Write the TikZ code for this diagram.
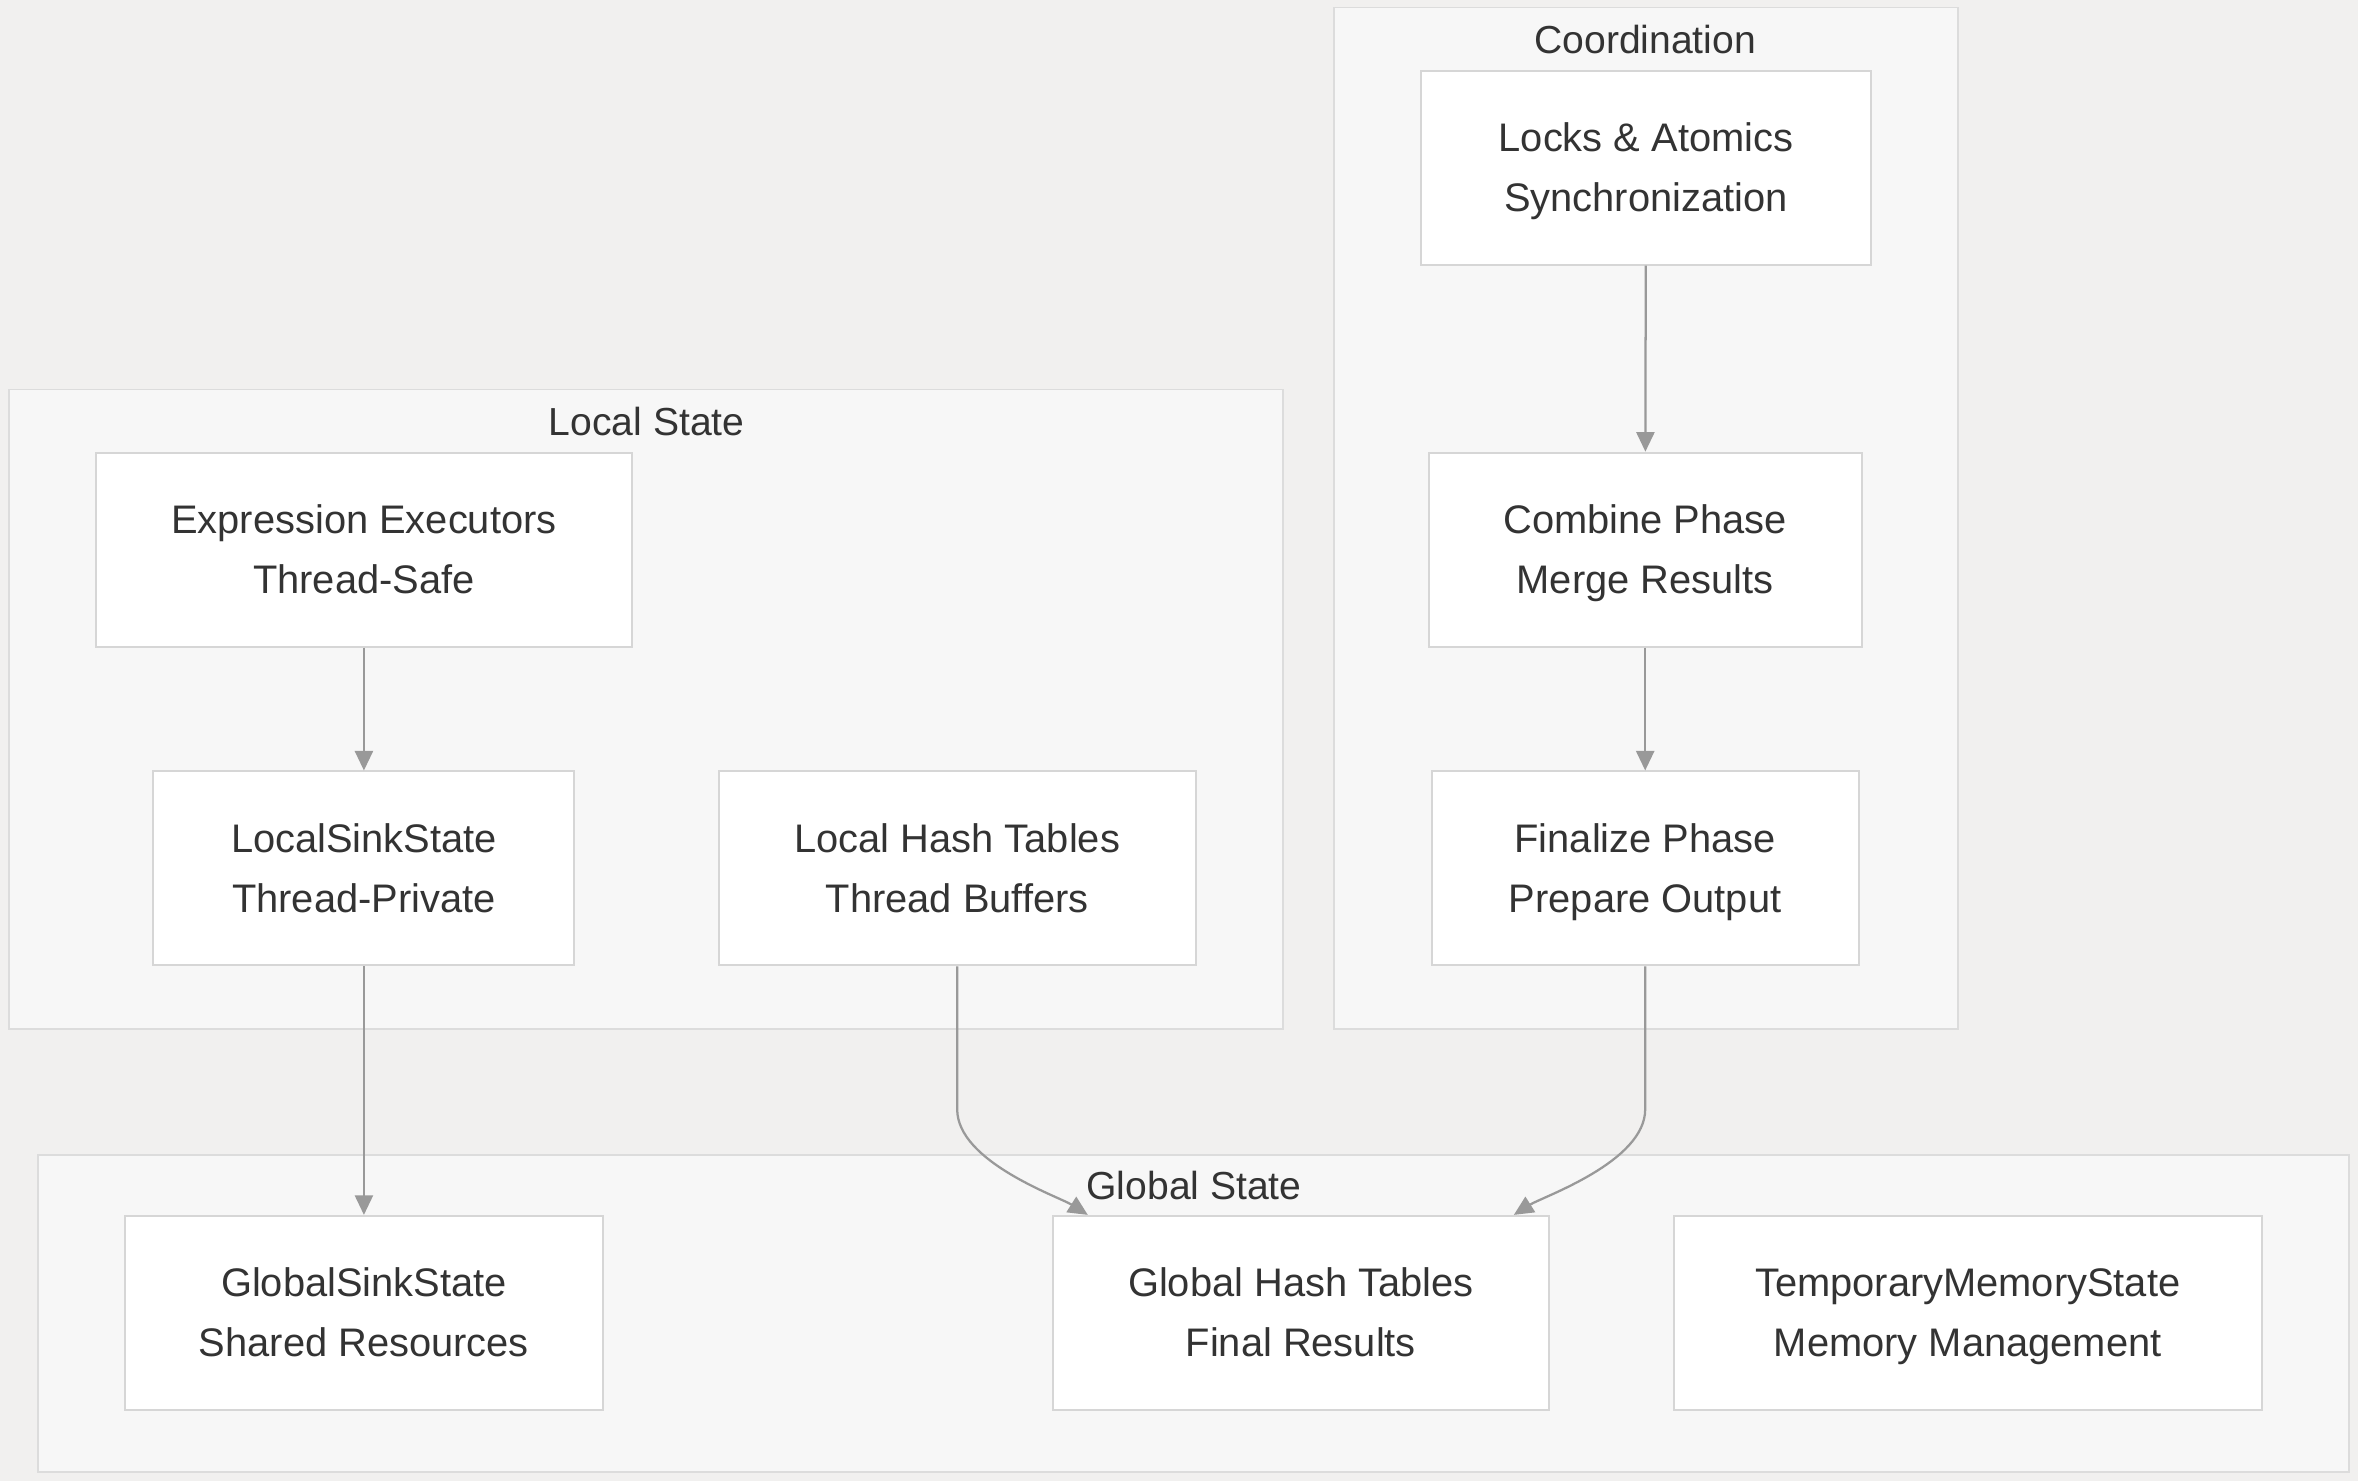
\documentclass[tikz,border=0pt]{standalone}
\usepackage{fontspec}
\setmainfont{Liberation Sans}
\usetikzlibrary{arrows.meta,calc}
\definecolor{bgc}{HTML}{F1F0EF}
\definecolor{clfill}{HTML}{F7F7F7}
\definecolor{clline}{HTML}{DCDCDC}
\definecolor{ndline}{HTML}{D6D6D6}
\definecolor{txt}{HTML}{333333}
\definecolor{edge}{HTML}{999999}
\newcommand\mline[1]{\smash{#1}\vphantom{A}}
\newcommand\twolines[2]{\mline{#1}\\\mline{#2}}
\begin{document}
\begin{tikzpicture}[x=1pt,y=-1pt,
  cluster/.style={draw=clline,fill=clfill,line width=1.3pt},
  ctitle/.style={text=txt,font=\fontsize{26}{30}\selectfont,inner sep=0pt},
  box/.style={draw=ndline,fill=white,line width=1.3pt,inner sep=0pt,align=center,
    text=txt,font=\fontsize{26.5}{40}\selectfont,minimum height=129pt},
  conn/.style={draw=edge,line width=1.5pt,-{Triangle[length=13pt,width=12pt]}}]
\useasboundingbox[fill=bgc] (0,0) rectangle (1568,985);
% clusters
\draw[cluster] (887,5) rectangle (1302,684);
\node[ctitle] (tcoord) at (1094,26) {Coordination};
\draw[cluster] (6,259) rectangle (853,684);
\node[ctitle] (tlocal) at (430,280) {Local State};
\draw[cluster] (25,768) rectangle (1562,979);
\node[ctitle] (tglobal) at (794,788) {Global State};
% nodes
\node[box,minimum width=299pt] (locks) at (1094.5,111.5) {\twolines{Locks \& Atomics}{Synchronization}};
\node[box,minimum width=288pt] (combine) at (1094,365.5) {\twolines{Combine Phase}{Merge Results}};
\node[box,minimum width=284pt] (final) at (1094,577.5) {\twolines{Finalize Phase}{Prepare Output}};
\node[box,minimum width=356pt] (expr) at (242,365.5) {\twolines{Expression Executors}{Thread-Safe}};
\node[box,minimum width=280pt] (lss) at (242,577.5) {\twolines{LocalSinkState}{Thread-Private}};
\node[box,minimum width=317pt] (lht) at (636.5,577.5) {\twolines{Local Hash Tables}{Thread Buffers}};
\node[box,minimum width=318pt] (gss) at (242,873) {\twolines{GlobalSinkState}{Shared Resources}};
\node[box,minimum width=330pt] (ght) at (865,873) {\twolines{Global Hash Tables}{Final Results}};
\node[box,minimum width=391pt] (tms) at (1308.5,873) {\twolines{TemporaryMemoryState}{Memory Management}};
% edges
\draw[conn] (locks) -- (combine);
\draw[conn] (combine) -- (final);
\draw[conn] (expr) -- (lss);
\draw[conn] (lss) -- (gss);
\draw[conn] (lht.south) -- ++(0,95) .. controls ++(0,35) and ($(ght.north west)+(5,-12)$) .. ($(ght.north west)+(24,0)$);
\draw[conn] (final.south) -- ++(0,95) .. controls ++(0,35) and ($(ght.north east)+(-5,-12)$) .. ($(ght.north east)+(-24,0)$);
\end{tikzpicture}
\end{document}
